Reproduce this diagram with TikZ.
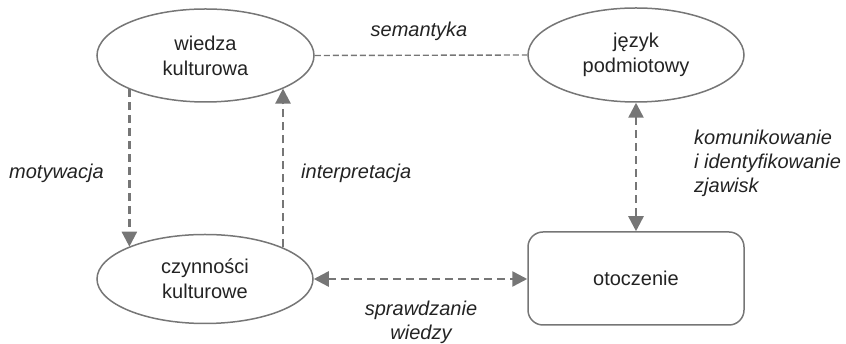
\documentclass[tikz,border=0pt]{standalone}
\usepackage{fontspec}
\setmainfont{Liberation Sans}
\usetikzlibrary{arrows.meta,shapes.geometric}
\definecolor{linec}{RGB}{118,118,118}
\definecolor{txt}{RGB}{35,35,35}
\begin{document}
\begin{tikzpicture}[x=1pt,y=1pt,
  every node/.style={font=\fontsize{20}{25}\selectfont, text=txt},
  ell/.style={ellipse, draw=linec, line width=1.5pt, inner sep=0pt, align=center},
  box/.style={rectangle, rounded corners=15pt, draw=linec, line width=1.5pt, inner sep=0pt, align=center, minimum width=216pt, minimum height=93pt},
  lab/.style={font=\fontsize{20}{24}\selectfont\itshape, inner sep=0pt},
  conn/.style={draw=linec, line width=2.5pt, dash pattern=on 8pt off 5pt},
  thin/.style={draw=linec, line width=1.4pt, dash pattern=on 6pt off 3pt},
  tipend/.style={-{Triangle[length=15pt,width=15pt]}},
  tipboth/.style={{Triangle[length=15pt,width=15pt]}-{Triangle[length=15pt,width=15pt]}}
]
\useasboundingbox (0,0) rectangle (846,344);

\node[ell, minimum width=217pt, minimum height=93pt] (wk) at (205.5,288.5) {wiedza\\kulturowa};
\node[ell, minimum width=216pt, minimum height=94pt] (jp) at (636,289) {język\\podmiotowy};
\node[ell, minimum width=216pt, minimum height=89pt] (cz) at (205,65) {czynności\\kulturowe};
\node[box] (ot) at (636,65.5) {otoczenie};

% connectors
\draw[thin] (wk.east) -- (jp.west);
\draw[conn, tipend] (wk.204) -- (cz.157 -| wk.204);
\draw[conn, tipend] (cz.22) -- (wk.337 -| cz.22);
\draw[conn, tipboth] (cz.east) -- (cz.east -| ot.west);
\draw[conn, tipboth] (jp.south) -- (ot.north);

% labels
\node[lab] (l1) at (419,313) {semantyka};
\node[lab, anchor=west] (l2) at (9,171) {motywacja};
\node[lab, anchor=west] (l3) at (301,171) {interpretacja};
\node[lab, anchor=west, align=left] (l4) at (694,181) {komunikowanie\\i identyfikowanie\\zjawisk};
\node[lab, align=center] (l5) at (421,22) {sprawdzanie\\wiedzy};
\end{tikzpicture}
\end{document}
